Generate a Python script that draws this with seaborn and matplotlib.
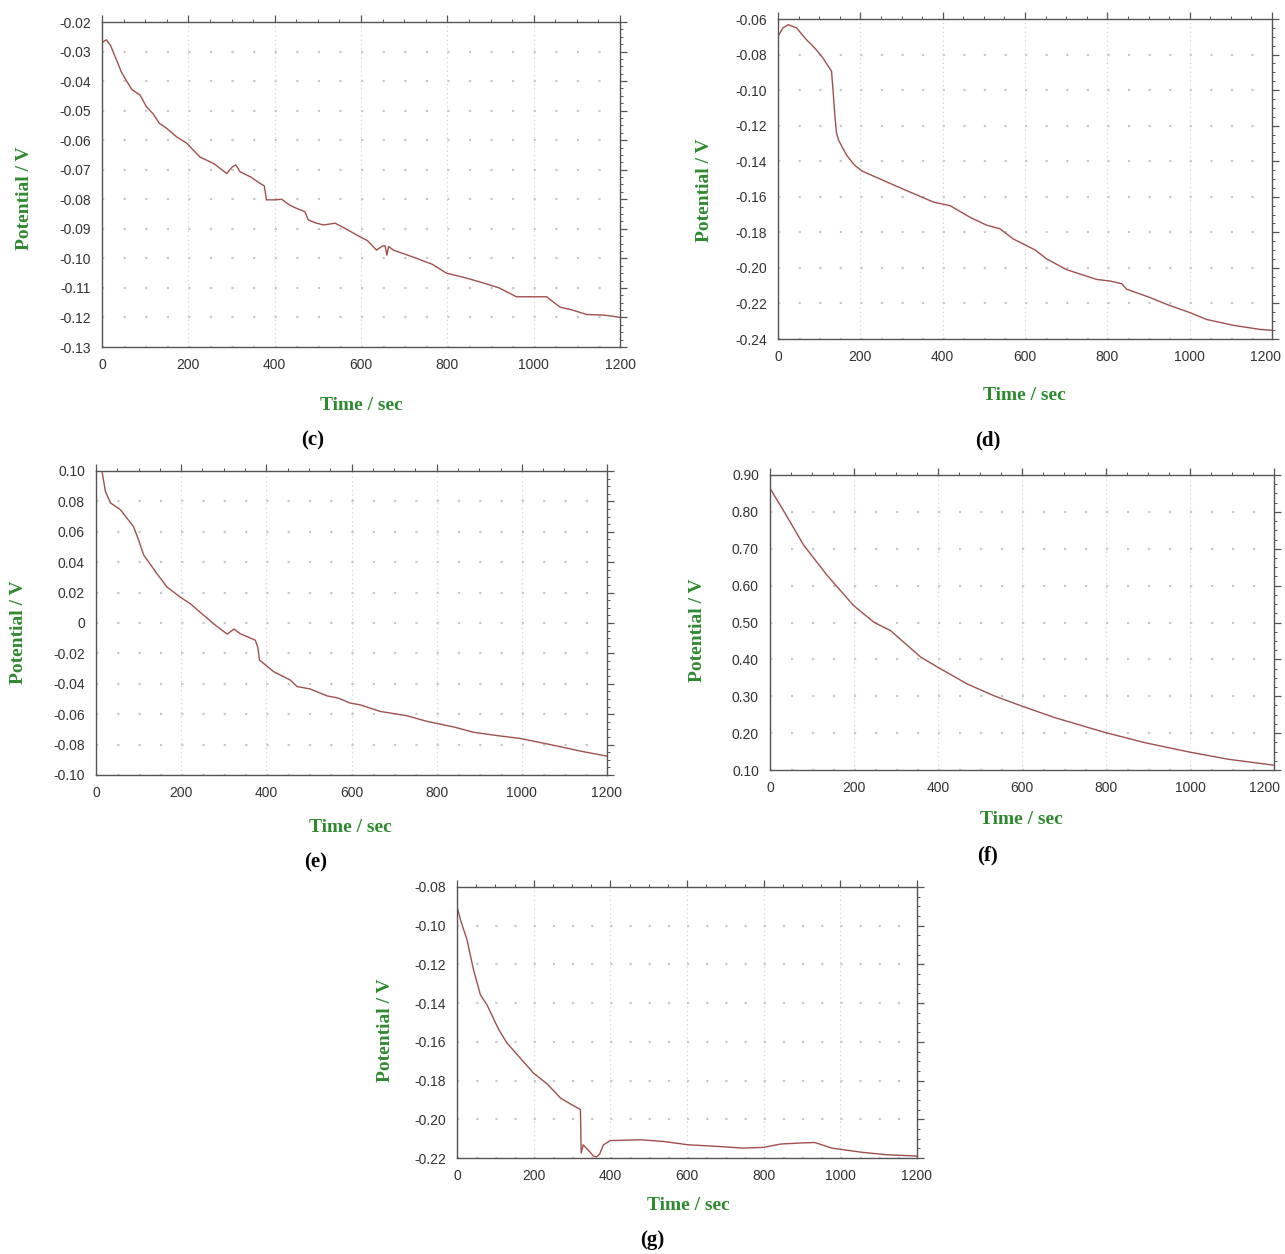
import matplotlib
matplotlib.use("Agg")
import matplotlib.pyplot as plt
import matplotlib.transforms as mtransforms
import seaborn as sns
import pandas as pd
from matplotlib.ticker import FixedLocator, AutoMinorLocator

# ---------------- data ----------------
time_ticks = [0, 200, 400, 600, 800, 1000, 1200]
time_labels = ["0", "200", "400", "600", "800", "1000", "1200"]

c_time = [0, 10, 20, 34, 45, 57, 70, 88, 103, 118, 133, 150, 173, 196, 227, 260, 289, 302, 310, 320,
          345, 366, 376, 381, 400, 416, 435, 451, 470, 478, 495, 513, 540, 565, 590, 615, 636, 650, 656, 660,
          664, 675, 700, 729, 765, 798, 840, 876, 920, 960, 1000, 1030, 1061, 1090, 1123, 1160, 1180, 1200]
c_pot = [-0.027, -0.026, -0.028, -0.033, -0.037, -0.040, -0.043, -0.0447, -0.0487, -0.051,
         -0.0543, -0.056, -0.0589, -0.061, -0.0657, -0.068, -0.0713, -0.069, -0.0684, -0.0707,
         -0.0725, -0.0746, -0.0755, -0.0802, -0.0802, -0.080, -0.082, -0.0831, -0.0842, -0.087,
         -0.088, -0.0887, -0.0881, -0.090, -0.0921, -0.094, -0.0972, -0.0958, -0.0958, -0.0989,
         -0.0960, -0.0972, -0.0985, -0.100, -0.102, -0.105, -0.1065, -0.108, -0.110, -0.113,
         -0.113, -0.113, -0.1165, -0.1175, -0.119, -0.1192, -0.1195, -0.120]
c_yticks = [-0.02, -0.03, -0.04, -0.05, -0.06, -0.07, -0.08, -0.09, -0.10, -0.11, -0.12, -0.13]
c_ylabels = ["-0.02", "-0.03", "-0.04", "-0.05", "-0.06", "-0.07", "-0.08", "-0.09", "-0.10", "-0.11", "-0.12", "-0.13"]

d_time = [0, 12, 25, 45, 69, 90, 109, 130, 134, 138, 142, 147, 158, 168, 185, 204, 248, 313, 378, 418,
          467, 507, 539, 572, 600, 625, 653, 701, 774, 807, 835, 847, 904, 944, 1001, 1041, 1106, 1171, 1200]
d_pot = [-0.0698, -0.065, -0.0632, -0.065, -0.0716, -0.0765, -0.0819, -0.0894, -0.101, -0.114,
         -0.124, -0.128, -0.133, -0.137, -0.142, -0.1455, -0.150, -0.1566, -0.163, -0.165,
         -0.1716, -0.176, -0.178, -0.1838, -0.187, -0.190, -0.195, -0.201, -0.2065, -0.2074,
         -0.2089, -0.212, -0.2167, -0.2205, -0.2252, -0.229, -0.2323, -0.2346, -0.2351]
d_yticks = [-0.06, -0.08, -0.10, -0.12, -0.14, -0.16, -0.18, -0.20, -0.22, -0.24]
d_ylabels = ["-0.06", "-0.08", "-0.10", "-0.12", "-0.14", "-0.16", "-0.18", "-0.20", "-0.22", "-0.24"]

e_time = [0, 14, 22, 34, 57, 88, 100, 112, 143, 167, 198, 222, 245, 277, 308, 324, 338, 374, 380, 384,
          389, 417, 456, 472, 503, 542, 569, 597, 620, 668, 730, 777, 840, 887, 940, 997, 1067, 1138, 1200]
e_pot = [0.100, 0.100, 0.0867, 0.079, 0.0746, 0.0635, 0.0546, 0.0447, 0.0325, 0.0236,
         0.0170, 0.0126, 0.007, -0.0007, -0.0073, -0.004, -0.0069, -0.0113, -0.016, -0.0244,
         -0.0255, -0.032, -0.0375, -0.0418, -0.0434, -0.0479, -0.0494, -0.0527, -0.0538, -0.0582,
         -0.061, -0.0647, -0.0684, -0.0719, -0.074, -0.076, -0.080, -0.0843, -0.0876]
e_yticks = [0.10, 0.08, 0.06, 0.04, 0.02, 0.0, -0.02, -0.04, -0.06, -0.08, -0.10]
e_ylabels = ["0.10", "0.08", "0.06", "0.04", "0.02", "0", "-0.02", "-0.04", "-0.06", "-0.08", "-0.10"]

f_time = [0, 36, 80, 136, 199, 247, 287, 359, 399, 470, 534, 598, 678, 797, 893, 997, 1092, 1200]
f_pot = [0.864, 0.796, 0.710, 0.628, 0.546, 0.501, 0.478, 0.406, 0.379, 0.333, 0.301, 0.274,
         0.242, 0.202, 0.174, 0.149, 0.129, 0.113]
f_yticks = [0.90, 0.80, 0.70, 0.60, 0.50, 0.40, 0.30, 0.20, 0.10]
f_ylabels = ["0.90", "0.80", "0.70", "0.60", "0.50", "0.40", "0.30", "0.20", "0.10"]

g_time = [0, 9, 26, 43, 61, 78, 109, 130, 165, 200, 235, 270, 295, 318, 322, 324, 329, 345, 356, 364,
          372, 382, 400, 480, 540, 604, 680, 747, 800, 844, 900, 933, 978, 1058, 1120, 1200]
g_pot = [-0.090, -0.0969, -0.1072, -0.1227, -0.1357, -0.1408, -0.1537, -0.1605, -0.1684, -0.1762,
         -0.1817, -0.189, -0.192, -0.1945, -0.195, -0.2174, -0.2132, -0.2165, -0.219, -0.2195,
         -0.218, -0.2132, -0.211, -0.2106, -0.2115, -0.2132, -0.2140, -0.2149, -0.2145, -0.2128,
         -0.2122, -0.212, -0.2149, -0.2171, -0.2183, -0.219]
g_yticks = [-0.08, -0.10, -0.12, -0.14, -0.16, -0.18, -0.20, -0.22]
g_ylabels = ["-0.08", "-0.10", "-0.12", "-0.14", "-0.16", "-0.18", "-0.20", "-0.22"]

panel_names = ["(c)", "(d)", "(e)", "(f)", "(g)"]
x_title = "Time / sec"
y_title = "Potential / V"

# ---------------- style ----------------
sns.set_theme(style="white")
plt.rcParams["font.family"] = ["Liberation Sans Narrow", "Liberation Sans", "DejaVu Sans"]

W, H = 1285, 1254
fig = plt.figure(figsize=(W / 100, H / 100), dpi=100)
fig.patch.set_facecolor("white")

LINE = "#a0504c"
GREEN = "#2f8a2f"
SERIF = ["Liberation Serif", "DejaVu Serif"]


def px_rect(l, t, r, b):
    return [l / W, 1 - b / H, (r - l) / W, (b - t) / H]


def panel(rect, t, p, yticks, ylabels, ylim, ylab_xy, xlab_xy, name_xy, name, shift_last=0):
    ax = fig.add_axes(px_rect(*rect))
    df = pd.DataFrame({"Time": t, "Potential": p})
    sns.lineplot(data=df, x="Time", y="Potential", ax=ax, color=LINE, lw=1.0,
                 sort=False, estimator=None)
    ax.set_xlim(0, 1200)
    ax.set_ylim(*ylim)
    ax.xaxis.set_major_locator(FixedLocator(time_ticks))
    ax.set_xticklabels(time_labels)
    ax.yaxis.set_major_locator(FixedLocator(yticks))
    ax.set_yticklabels(ylabels)
    ax.xaxis.set_minor_locator(AutoMinorLocator(4))
    ax.yaxis.set_minor_locator(AutoMinorLocator(4))
    ax.set_xlabel("")
    ax.set_ylabel("")
    ax.tick_params(which="both", direction="out", top=True, right=True,
                   color="#555555", labelcolor="#333333", labelsize=10)
    ax.tick_params(which="major", length=5, width=0.9, pad=3)
    ax.tick_params(which="minor", length=2.5, width=0.7)
    for s in ax.spines.values():
        s.set_color("#555555")
        s.set_linewidth(1.0)
        s.set_visible(True)
    ax.grid(False)
    # vertical dotted lines at major time ticks
    ax.grid(axis="x", which="major", color="#cdcdcd", ls=(0, (1, 3)), lw=0.8)
    # rows of dots at major potential ticks, one dot per minor time step
    width_px = rect[2] - rect[0]
    period_pt = width_px / 24 * 72 / 100
    dot_lw = 1.6
    on = 1.0
    off = (period_pt - on * dot_lw) / dot_lw
    ax.grid(axis="y", which="major", color="#c8c8c8", ls=(0, (on, off)), lw=dot_lw)
    ax.set_axisbelow(True)
    if shift_last:
        lab = ax.get_xticklabels()[-1]
        lab.set_transform(lab.get_transform() +
                          mtransforms.ScaledTranslation(shift_last / 72, 0, fig.dpi_scale_trans))
    fig.text(ylab_xy[0] / W, 1 - ylab_xy[1] / H, y_title, rotation=90, ha="center", va="center",
             color=GREEN, fontweight="bold", fontsize=14, family=SERIF)
    fig.text(xlab_xy[0] / W, 1 - xlab_xy[1] / H, x_title, ha="center", va="center",
             color=GREEN, fontweight="bold", fontsize=14, family=SERIF)
    fig.text(name_xy[0] / W, 1 - name_xy[1] / H, name, ha="center", va="center",
             color="black", fontweight="bold", fontsize=15, family=SERIF)
    return ax


panel((102, 22, 620, 347), c_time, c_pot, c_yticks, c_ylabels, (-0.13, -0.02),
      (25, 198), (361, 405), (313, 440), panel_names[0])
panel((778, 19, 1272, 339), d_time, d_pot, d_yticks, d_ylabels, (-0.24, -0.06),
      (704, 190), (1024, 395), (988, 440), panel_names[1], shift_last=-5)
panel((96, 471, 607, 775), e_time, e_pot, e_yticks, e_ylabels, (-0.10, 0.10),
      (19, 632), (350, 828), (316, 862), panel_names[2])
panel((770, 475, 1274, 770), f_time, f_pot, f_yticks, f_ylabels, (0.10, 0.90),
      (697, 630), (1021, 820), (988, 855), panel_names[3], shift_last=-7)
panel((457, 887, 917, 1158), g_time, g_pot, g_yticks, g_ylabels, (-0.22, -0.08),
      (386, 1030), (688, 1205), (652, 1240), panel_names[4])

fig.savefig("out.png", dpi=100, facecolor="white")
